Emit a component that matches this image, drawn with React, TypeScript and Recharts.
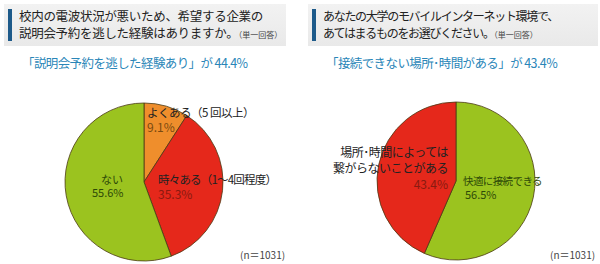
import { PieChart, Pie, Cell } from 'recharts';

const leftNames = ['よくある', '時々ある', 'ない'];
const leftValues = [9.1, 35.3, 55.6];
const leftColors = ['#ef8e2c', '#e5281b', '#9bc31f'];

const rightNames = ['快適に接続できる', '場所・時間によっては繋がらないことがある'];
const rightValues = [56.5, 43.4];
const rightColors = ['#9bc31f', '#e5281b'];

const FONT = '"Noto Sans CJK JP", "Noto Sans", sans-serif';

const leftData = leftNames.map((name, i) => ({ name, value: leftValues[i] }));
const rightData = rightNames.map((name, i) => ({ name, value: rightValues[i] }));

function Header({ x, width, lines, size, spacing }: { x: number; width: number; lines: string[]; size: number; spacing: number }) {
  return (
    <div
      style={{
        position: 'absolute',
        left: x,
        top: 4,
        width,
        height: 42,
        background: 'linear-gradient(#f2f2f2, #e9e9e9)',
      }}
    >
      <div style={{ position: 'absolute', left: 4, top: 5, width: 4, height: 32, background: '#1d5a8a' }} />
      <div
        style={{
          position: 'absolute',
          left: 15,
          top: 3,
          fontSize: size,
          letterSpacing: spacing,
          lineHeight: '17px',
          color: '#222',
          whiteSpace: 'nowrap',
        }}
      >
        {lines[0]}
        <br />
        {lines[1]}
        <span style={{ fontSize: 8, letterSpacing: 0, color: '#444' }}>（単一回答）</span>
      </div>
    </div>
  );
}

function Txt({ x, y, children, color = '#222', align = 'left', size = 12, spacing = 0 }: any) {
  return (
    <div
      style={{
        position: 'absolute',
        left: align === 'right' ? undefined : x,
        right: align === 'right' ? 600 - x : undefined,
        top: y,
        fontSize: size,
        letterSpacing: spacing,
        lineHeight: `${size}px`,
        color,
        whiteSpace: 'nowrap',
        textAlign: align,
      }}
    >
      {children}
    </div>
  );
}

const noMargin = { top: 0, right: 0, bottom: 0, left: 0 };

export default function App() {
  return (
    <div
      style={{
        position: 'absolute',
        left: 0,
        top: 0,
        width: 600,
        height: 264,
        background: '#fff',
        fontFamily: FONT,
        overflow: 'hidden',
      }}
    >
      <Header x={4} width={282} size={12.5} spacing={-0.3} lines={['校内の電波状況が悪いため、希望する企業の', '説明会予約を逃した経験はありますか。']} />
      <Header x={308} width={290} size={12} spacing={-1.3} lines={['あなたの大学のモバイルインターネット環境で、', 'あてはまるものをお選びください。']} />

      <Txt x={22} y={57} color="#2a86b8" size={12.5} spacing={-0.6}>「説明会予約を逃した経験あり」が 44.4%</Txt>
      <Txt x={326} y={57} color="#2a86b8" size={12.5} spacing={-0.6}>「接続できない場所･時間がある」が 43.4%</Txt>

      <div style={{ position: 'absolute', left: 0, top: 80 }}>
        <PieChart width={290} height={184} margin={noMargin}>
          <Pie
            data={leftData}
            dataKey="value"
            cx={144}
            cy={102}
            outerRadius={79}
            startAngle={90}
            endAngle={-270}
            stroke="#4a3a14"
            strokeWidth={0.8}
            isAnimationActive={false}
          >
            {leftData.map((d, i) => (
              <Cell key={d.name} fill={leftColors[i]} />
            ))}
          </Pie>
        </PieChart>
      </div>

      <div style={{ position: 'absolute', left: 300, top: 80 }}>
        <PieChart width={300} height={184} margin={noMargin}>
          <Pie
            data={rightData}
            dataKey="value"
            cx={156}
            cy={101}
            outerRadius={79}
            startAngle={90}
            endAngle={-270}
            stroke="#4a3a14"
            strokeWidth={0.8}
            isAnimationActive={false}
          >
            {rightData.map((d, i) => (
              <Cell key={d.name} fill={rightColors[i]} />
            ))}
          </Pie>
        </PieChart>
      </div>

      <Txt x={147} y={107} color="#222" size={11.5} spacing={-0.5}>よくある（5 回以上）</Txt>
      <Txt x={147} y={121} color="#7a4a10" size={12}>9.1%</Txt>
      <Txt x={158} y={174} color="#222" size={11.5} spacing={-0.8}>時々ある（1～4回程度）</Txt>
      <Txt x={158} y={188} color="#8a1a10" size={12}>35.3%</Txt>
      <Txt x={101} y={174} color="#2e4a08" size={11}>ない</Txt>
      <Txt x={92} y={187} color="#2e4a08" size={11}>55.6%</Txt>

      <Txt x={448} y={146} align="right" color="#222" size={12} spacing={-0.5}>場所･時間によっては</Txt>
      <Txt x={448} y={162} align="right" color="#222" size={12} spacing={-0.5}>繋がらないことがある</Txt>
      <Txt x={448} y={178} align="right" color="#8a1a10" size={12}>43.4%</Txt>
      <Txt x={463} y={176} color="#2e4a08" size={10.5} spacing={-0.6}>快適に接続できる</Txt>
      <Txt x={465} y={189} color="#2e4a08" size={11}>56.5%</Txt>

      <Txt x={240} y={250} color="#444" size={10}>(n＝1031)</Txt>
      <Txt x={550} y={250} color="#444" size={10}>(n＝1031)</Txt>
    </div>
  );
}
